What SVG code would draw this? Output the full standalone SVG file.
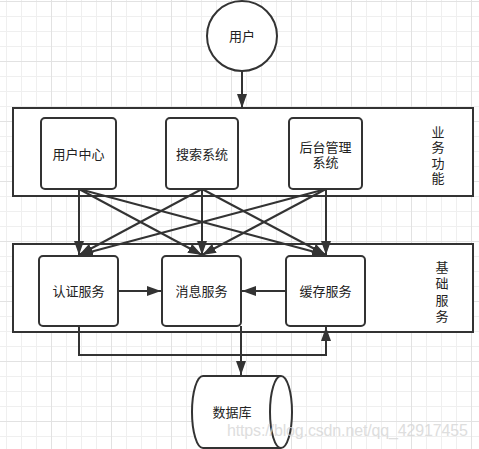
<svg xmlns="http://www.w3.org/2000/svg" width="479" height="449" viewBox="0 0 479 449">
<style>
.box{fill:#fff;stroke:#333;stroke-width:2}
.grp{fill:#fff;stroke:#333;stroke-width:2}
.t{font-family:"Liberation Sans","Noto Sans CJK SC",sans-serif;font-size:13px;fill:#222;text-anchor:middle;dominant-baseline:central}
.ln{fill:none;stroke:#333;stroke-width:2}
.wm{font-family:"Liberation Sans",Arial,sans-serif;font-size:16px;fill:#d6d6d6;opacity:0.8}
</style>
<defs>
<pattern id="minor" patternUnits="userSpaceOnUse" x="6" y="1" width="15" height="15">
<path d="M0.5 0V15M0 0.5H15" stroke="#efefef" stroke-width="1" fill="none"/>
</pattern>
<pattern id="major" patternUnits="userSpaceOnUse" x="51" y="1" width="60" height="60">
<path d="M0.5 0V60M0 0.5H60" stroke="#e2e2e2" stroke-width="1" fill="none"/>
</pattern>
<marker id="arr" markerUnits="userSpaceOnUse" markerWidth="14" markerHeight="10" refX="14" refY="5" orient="auto">
<path d="M0,0 L14,5 L0,10 Z" fill="#333"/>
</marker>
</defs>
<rect width="479" height="449" fill="#fff"/>
<rect width="479" height="449" fill="url(#minor)"/>
<rect width="479" height="449" fill="url(#major)"/>

<g id="group-business">
<rect class="grp" x="13" y="108" width="460" height="88"/>
<text class="t"><tspan x="438" y="131.5">业</tspan><tspan x="438" y="147">务</tspan><tspan x="438" y="162.5">功</tspan><tspan x="438" y="178">能</tspan></text>
</g>
<g id="group-base">
<rect class="grp" x="13" y="244" width="460" height="88"/>
<text class="t"><tspan x="442" y="267">基</tspan><tspan x="442" y="283">础</tspan><tspan x="442" y="300">服</tspan><tspan x="442" y="316">务</tspan></text>
</g>

<g id="connectors">
<path class="ln" d="M242 71V108" marker-end="url(#arr)"/>
<path class="ln" d="M79 189V255" marker-end="url(#arr)"/>
<path class="ln" d="M79 189L202 255" marker-end="url(#arr)"/>
<path class="ln" d="M79 189L326 255" marker-end="url(#arr)"/>
<path class="ln" d="M202 189L79 255" marker-end="url(#arr)"/>
<path class="ln" d="M202 189V255" marker-end="url(#arr)"/>
<path class="ln" d="M202 189L326 255" marker-end="url(#arr)"/>
<path class="ln" d="M326 189L79 255" marker-end="url(#arr)"/>
<path class="ln" d="M326 189L202 255" marker-end="url(#arr)"/>
<path class="ln" d="M326 189V255" marker-end="url(#arr)"/>
<path class="ln" d="M118 291H161" marker-end="url(#arr)"/>
<path class="ln" d="M286 291H242" marker-end="url(#arr)"/>
<path class="ln" d="M79 326V355H326V327" marker-end="url(#arr)"/>
<path class="ln" d="M241 326V375" marker-end="url(#arr)"/>
</g>

<g id="user">
<circle class="box" cx="242" cy="36" r="35"/>
<text class="t" x="242" y="36">用户</text>
</g>
<g id="user-center">
<rect class="box" x="41" y="118" width="75" height="71" rx="4"/>
<text class="t" x="78.5" y="154">用户中心</text>
</g>
<g id="search">
<rect class="box" x="166" y="118" width="72" height="71" rx="4"/>
<text class="t" x="202" y="154">搜索系统</text>
</g>
<g id="admin">
<rect class="box" x="289" y="118" width="73" height="71" rx="4"/>
<text class="t"><tspan x="325.5" y="146.5">后台管理</tspan><tspan x="325.5" y="162">系统</tspan></text>
</g>
<g id="auth">
<rect class="box" x="39" y="256" width="79" height="70" rx="4"/>
<text class="t" x="78.5" y="291">认证服务</text>
</g>
<g id="message">
<rect class="box" x="162" y="256" width="79" height="70" rx="4"/>
<text class="t" x="201.5" y="291">消息服务</text>
</g>
<g id="cache">
<rect class="box" x="286" y="256" width="79" height="70" rx="4"/>
<text class="t" x="325.5" y="291">缓存服务</text>
</g>
<g id="database">
<path class="box" d="M203 376H281A11 36 0 0 1 281 448H203A11 36 0 0 1 203 376Z"/>
<path class="ln" d="M281 376A11 36 0 0 0 281 448"/>
<text class="t" x="232" y="412">数据库</text>
</g>
<text class="wm" x="227" y="436" textLength="241">https://blog.csdn.net/qq_42917455</text>
</svg>
